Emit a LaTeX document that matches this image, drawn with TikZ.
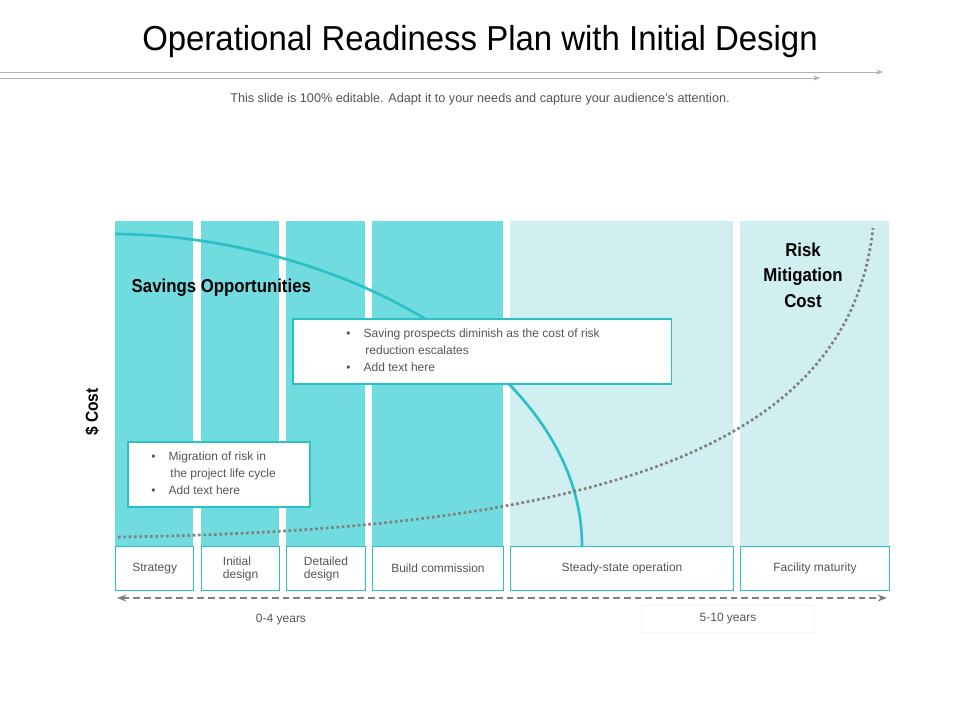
\documentclass[tikz,border=0pt]{standalone}
\usepackage{fontspec}
\setmainfont{Liberation Sans}
\usetikzlibrary{arrows.meta}
\definecolor{tealD}{HTML}{70DCDF}
\definecolor{tealL}{HTML}{D1EFF0}
\definecolor{tealB}{HTML}{2BBFC6}
\definecolor{txt}{HTML}{555555}
\begin{document}
\begin{tikzpicture}[x=0.75pt,y=-0.75pt,
  col/.style={fill=#1,draw=none},
  lbl/.style={draw=tealB,line width=1pt,fill=white,font=\fontsize{9}{10}\selectfont,text=txt,align=center,inner sep=0pt},
  tbox/.style={draw=tealB,line width=1.3pt,fill=white,inner sep=0pt},
  btxt/.style={font=\fontsize{9}{12.5}\selectfont,text=txt,align=left,anchor=north west,inner sep=0pt}]
\useasboundingbox (0,0) rectangle (960,720);
\node (title) at (480,42) {\fontsize{26}{30}\selectfont\addfontfeatures{FakeStretch=0.95}Operational Readiness Plan with Initial Design};
\coordinate (l1a) at (0,72); \coordinate (l1b) at (883,72);
\coordinate (l2a) at (0,78); \coordinate (l2b) at (820,78);
\draw[gray!60,-{Stealth[length=5pt]}] (l1a) -- (l1b);
\draw[gray!60,-{Stealth[length=5pt]}] (l2a) -- (l2b);
\node (sub) at (480,99) {\fontsize{9.5}{11}\selectfont\color{txt}This slide is 100\% editable. Adapt it to your needs and capture your audience's attention.};
% columns
\fill[tealD] (115,221) rectangle (193,546);
\fill[tealD] (201,221) rectangle (279,546);
\fill[tealD] (286,221) rectangle (365,546);
\fill[tealD] (372,221) rectangle (503,546);
\fill[tealL] (510,221) rectangle (733,546);
\fill[tealL] (740,221) rectangle (889,546);
% curves
\coordinate (c1s) at (115,234); \coordinate (c1e) at (582,546);
\draw[tealB,line width=2pt] (c1s) .. controls (345,236) and (582,370) .. (c1e);
\coordinate (c2s) at (118,537); \coordinate (c2e) at (873,228);
\draw[gray,line width=2pt,dotted] (c2s) .. controls (620,530) and (850,440) .. (c2e);
% labels row
\node[lbl,minimum width=58.5pt,minimum height=33pt,anchor=north west] (s1) at (115,546) {Strategy};
\node[lbl,minimum width=58.5pt,minimum height=33pt,anchor=north west,align=left] (s2) at (201,546) {Initial\\design};
\node[lbl,minimum width=59pt,minimum height=33pt,anchor=north west,align=left] (s3) at (286,546) {Detailed\\design};
\node[lbl,minimum width=98pt,minimum height=33pt,anchor=north west] (s4) at (372,546) {Build commission};
\node[lbl,minimum width=167pt,minimum height=33pt,anchor=north west] (s5) at (510,546) {Steady-state operation};
\node[lbl,minimum width=111.5pt,minimum height=33pt,anchor=north west] (s6) at (740,546) {Facility maturity};
% headings
\node[anchor=west,font=\bfseries\fontsize{14}{16}\selectfont\addfontfeatures{FakeStretch=0.9}] (sav) at (127,288) {Savings Opportunities};
\node[align=center,font=\bfseries\fontsize{14}{19}\selectfont\addfontfeatures{FakeStretch=0.9}] (risk) at (803,275) {Risk\\Mitigation\\Cost};
\node[rotate=90,font=\bfseries\fontsize{13}{15}\selectfont\addfontfeatures{FakeStretch=0.9}] (cost) at (92,412) {\$ Cost};
% text boxes
\node[tbox,minimum width=284pt,minimum height=49pt,anchor=north west] (b1) at (292,318) {};
\node[btxt] (b1t) at (346,329) {\textbullet\hspace{1.1em}Saving prospects diminish as the cost of risk\\\hspace{1.6em}reduction escalates\\\textbullet\hspace{1.1em}Add text here};
\node[tbox,minimum width=136.5pt,minimum height=49pt,anchor=north west] (b2) at (127,441) {};
\node[btxt] (b2t) at (151,452) {\textbullet\hspace{1.1em}Migration of risk in\\\hspace{1.6em}the project life cycle\\\textbullet\hspace{1.1em}Add text here};
% timeline
\coordinate (ta) at (117,598); \coordinate (tb) at (887,598);
\draw[gray,line width=2pt,dash pattern=on 5pt off 3pt,{Stealth[length=7pt]}-{Stealth[length=7pt]}] (ta) -- (tb);
\node[font=\fontsize{9}{11}\selectfont,text=txt] (y1) at (281,620) {0-4 years};
\node[draw=gray!15,rounded corners=3pt,minimum width=130pt,minimum height=21pt,font=\fontsize{9}{11}\selectfont,text=txt] (y2) at (728,619) {5-10 years};
\end{tikzpicture}
\end{document}
